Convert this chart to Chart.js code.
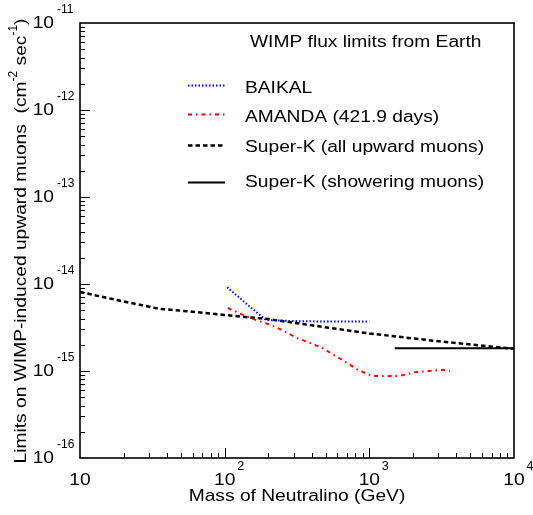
<!DOCTYPE html>
<html><head><meta charset="utf-8">
<script src="https://cdn.jsdelivr.net/npm/chart.js@4.4.1/dist/chart.umd.min.js"></script>
<style>html,body{margin:0;padding:0;background:#fff}canvas{display:block}</style>
</head><body>
<canvas id="c" width="533" height="515"></canvas>
<script>
// ---- data ----
const baikalMass = [104, 140, 193, 300, 500, 1000];
const baikalFlux = [9.2e-15, 6.0e-15, 3.85e-15, 3.75e-15, 3.7e-15, 3.7e-15];

const amandaMass = [105, 130, 162, 206, 250, 316, 470, 700, 834, 1040, 1330, 1630, 2070, 2600, 3230, 3600];
const amandaFlux = [5.3e-15, 4.5e-15, 3.9e-15, 3.4e-15, 2.95e-15, 2.4e-15, 1.85e-15, 1.24e-15, 1.03e-15, 8.8e-16, 8.7e-16, 8.8e-16, 9.7e-16, 1.0e-15, 1.03e-15, 1.0e-15];

const superKAllMass = [10, 20, 35, 60, 100, 200, 400, 1000, 3000, 10000];
const superKAllFlux = [8.1e-15, 6.3e-15, 5.2e-15, 4.8e-15, 4.4e-15, 3.95e-15, 3.35e-15, 2.7e-15, 2.2e-15, 1.8e-15];

const superKShowerMass = [1500, 10000];
const superKShowerFlux = [1.82e-15, 1.82e-15];

const seriesLabels = ['BAIKAL', 'AMANDA (421.9 days)', 'Super-K (all upward muons)', 'Super-K (showering muons)'];
const legendTitle = 'WIMP flux limits from Earth';
const xTickValues = [10, 100, 1000, 10000];
const xTickExponents = ['', '2', '3', '4'];
const yTickValues = [1e-16, 1e-15, 1e-14, 1e-13, 1e-12, 1e-11];
const yTickExponents = ['-16', '-15', '-14', '-13', '-12', '-11'];
const xTitle = 'Mass of Neutralino (GeV)';
const yTitleParts = [['Limits on WIMP-induced upward muons  (cm', false], ['-2', true], [' sec', false], ['-1', true], [')', false]];

const zip = (xs, ys) => xs.map((v, i) => ({x: v, y: ys[i]}));

const FONT = '"Liberation Sans", Arial, Helvetica, sans-serif';
function txt(ctx, s, x, y, size, align, base, sx) {
  ctx.save();
  ctx.translate(x, y);
  ctx.scale(sx, 1);
  ctx.font = size + 'px ' + FONT;
  ctx.textAlign = align; ctx.textBaseline = base;
  ctx.fillStyle = '#000';
  ctx.fillText(s, 0, 0);
  const w = ctx.measureText(s).width * sx;
  ctx.restore();
  return w;
}
function measure(ctx, s, size, sx) {
  ctx.save(); ctx.font = size + 'px ' + FONT;
  const w = ctx.measureText(s).width * sx; ctx.restore(); return w;
}

const framePlugin = {
  id: 'frame',
  afterDatasetsDraw(chart) {
    const {ctx, chartArea: a, scales: {x, y}} = chart;
    ctx.save();
    ctx.strokeStyle = '#000';
    // ticks (inward)
    ctx.lineWidth = 1;
    ctx.beginPath();
    for (let e = 1; e < 4; e++) for (let m = 1; m < 10; m++) {
      const v = m * Math.pow(10, e);
      if (v <= x.min || v >= x.max) continue;
      const px = Math.round(x.getPixelForValue(v)) + 0.5;
      const len = m === 1 ? 10 : 5;
      ctx.moveTo(px, a.bottom); ctx.lineTo(px, a.bottom - len);
    }
    for (let e = -16; e < -11; e++) for (let m = 1; m < 10; m++) {
      const v = m * Math.pow(10, e);
      if (v <= y.min * 1.0001 && m === 1) continue;
      const py = Math.round(y.getPixelForValue(v)) + 0.5;
      const len = m === 1 ? 10 : 5;
      ctx.moveTo(a.left, py); ctx.lineTo(a.left + len, py);
    }
    ctx.stroke();
    // box
    ctx.lineWidth = 1.6;
    ctx.strokeRect(a.left, a.top, a.right - a.left, a.bottom - a.top);

    // x tick labels
    xTickValues.forEach((v, i) => {
      const px = x.getPixelForValue(v);
      txt(ctx, '10', px, 481, 16, 'center', 'middle', 1.2);
      if (xTickExponents[i]) txt(ctx, xTickExponents[i], px + 12.5, 467, 12, 'left', 'middle', 1.05);
    });
    // y tick labels
    yTickValues.forEach((v, i) => {
      const py = y.getPixelForValue(v);
      txt(ctx, '10', 54, py + 1, 16, 'right', 'middle', 1.2);
      txt(ctx, yTickExponents[i], 57, py - 13, 12, 'left', 'middle', 1.0);
    });
    // x title
    txt(ctx, xTitle, (a.left + a.right) / 2, 501, 16, 'center', 'alphabetic', 1.2);
    // y title (rotated)
    let total = 0;
    yTitleParts.forEach(([s, sup]) => { total += sup ? measure(ctx, s, 12, 1.0) : measure(ctx, s, 16, 1.2); });
    ctx.save();
    ctx.translate(26, 241);
    ctx.rotate(-Math.PI / 2);
    let cx = -total / 2;
    yTitleParts.forEach(([s, sup]) => {
      if (sup) cx += txt(ctx, s, cx, -9, 12, 'left', 'alphabetic', 1.0);
      else cx += txt(ctx, s, cx, 0, 16, 'left', 'alphabetic', 1.2);
    });
    ctx.restore();

    // legend
    txt(ctx, legendTitle, 250, 47, 16, 'left', 'alphabetic', 1.2);
    const rowsLine = [85, 114, 145, 182];
    const rowsText = [93, 122, 152, 187];
    chart.data.datasets.forEach((ds, i) => {
      ctx.save();
      ctx.strokeStyle = ds.borderColor;
      ctx.lineWidth = ds.borderWidth;
      ctx.setLineDash(ds.borderDash || []);
      ctx.beginPath();
      ctx.moveTo(188, rowsLine[i] + 0.5); ctx.lineTo(225, rowsLine[i] + 0.5);
      ctx.stroke();
      ctx.restore();
      txt(ctx, ds.label, 245, rowsText[i], 16, 'left', 'alphabetic', 1.2);
    });
    ctx.restore();
  }
};

new Chart(document.getElementById('c'), {
  type: 'line',
  data: {
    datasets: [
      {label: seriesLabels[0], data: zip(baikalMass, baikalFlux), borderColor: '#0000ff', borderWidth: 2, borderDash: [1.5, 2], pointRadius: 0, fill: false, tension: 0},
      {label: seriesLabels[1], data: zip(amandaMass, amandaFlux), borderColor: '#ff0000', borderWidth: 2, borderDash: [4, 4, 1.5, 4], pointRadius: 0, fill: false, tension: 0},
      {label: seriesLabels[2], data: zip(superKAllMass, superKAllFlux), borderColor: '#000000', borderWidth: 2.5, borderDash: [4.5, 3], pointRadius: 0, fill: false, tension: 0},
      {label: seriesLabels[3], data: zip(superKShowerMass, superKShowerFlux), borderColor: '#000000', borderWidth: 2, borderDash: [], pointRadius: 0, fill: false, tension: 0}
    ]
  },
  options: {
    responsive: false,
    animation: false,
    layout: {padding: {left: 80, right: 19, top: 23, bottom: 57}},
    scales: {
      x: {type: 'logarithmic', min: 10, max: 10000, display: false},
      y: {type: 'logarithmic', min: 1e-16, max: 1e-11, display: false}
    },
    plugins: {legend: {display: false}, tooltip: {enabled: false}}
  },
  plugins: [framePlugin]
});
</script>
</body></html>
